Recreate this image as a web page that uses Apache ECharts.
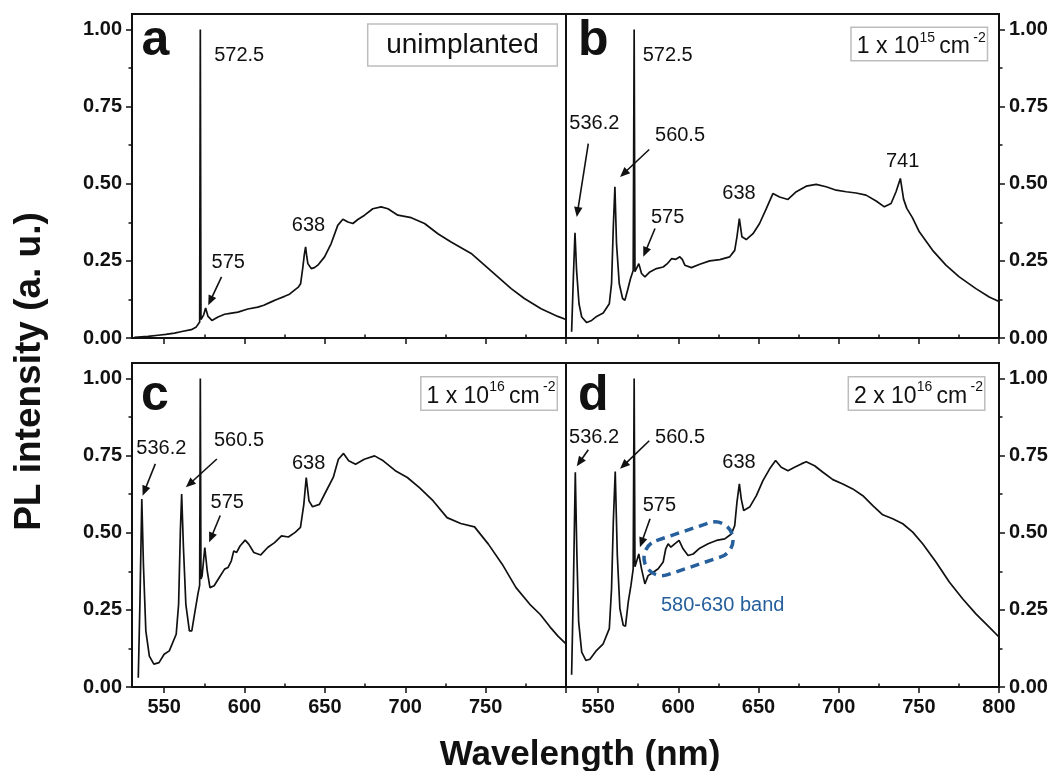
<!DOCTYPE html>
<html><head><meta charset="utf-8">
<script src="https://cdn.jsdelivr.net/npm/echarts@6/dist/echarts.min.js"></script>
<style>html,body{margin:0;padding:0;background:#fff}#c{width:1057px;height:771px}</style>
</head><body><div id="c"></div>
<script>
// ---------- data (wavelength nm, normalised PL intensity) ----------
const wlA=[531.5,533.7,540,546.2,551,556.5,561,566.9,570,572.1,572.5,572.9,573.5,574.6,575.8,577.3,579.7,583.5,587.6,591,595.9,602.1,608.3,612,616.6,620,624.9,628,631.1,633.5,634.9,636.3,637.2,638,638.7,639.4,641.5,643.5,645.6,649.8,653.9,658,661.2,664.3,667.4,670.5,674.7,679.8,685,689.2,695.4,703.7,712,720.3,728.5,741,749.3,757.6,765.9,774.1,784.5,794.9,800];
const plA=[0.002,0.003,0.005,0.009,0.012,0.016,0.021,0.027,0.036,0.052,1.0,0.06,0.057,0.075,0.097,0.07,0.057,0.068,0.077,0.08,0.084,0.094,0.1,0.106,0.117,0.125,0.135,0.142,0.155,0.165,0.176,0.23,0.27,0.295,0.265,0.241,0.225,0.228,0.236,0.263,0.306,0.365,0.385,0.376,0.371,0.384,0.398,0.419,0.425,0.419,0.398,0.39,0.371,0.338,0.311,0.274,0.236,0.198,0.16,0.128,0.095,0.07,0.06];

const wlB=[533.5,534.6,535.6,536.6,538.1,539.8,542.9,546,549.1,553.2,557,558.4,559.5,560.5,561.5,563.2,565.3,566.7,568.4,570.2,571.9,572.5,573,573.6,575.4,577.1,579.2,582.3,586.4,590.6,593,595.8,598.5,601,602.5,604.1,608.2,613.4,619.6,625.9,632.1,635.2,636.6,638.1,639.7,642.4,646.6,650.7,654.9,659,663.2,668.4,673.6,679.8,686,692.2,698.5,704.7,710.9,717.1,723.4,728.5,732.7,735.8,738.5,740.5,742.5,746,750.3,758.6,766.9,775.2,785.6,793.9,800];
const plB=[0.02,0.198,0.341,0.219,0.111,0.068,0.05,0.057,0.07,0.081,0.111,0.176,0.36,0.49,0.306,0.176,0.128,0.122,0.155,0.192,0.219,1.0,0.215,0.219,0.241,0.209,0.198,0.214,0.225,0.23,0.24,0.257,0.255,0.263,0.255,0.236,0.228,0.239,0.25,0.254,0.263,0.284,0.328,0.387,0.328,0.319,0.338,0.371,0.419,0.468,0.457,0.449,0.474,0.492,0.498,0.49,0.479,0.474,0.47,0.463,0.444,0.425,0.436,0.474,0.517,0.45,0.42,0.39,0.344,0.284,0.236,0.198,0.16,0.133,0.118];

const wlC=[533.9,535,536.1,537.1,538.6,540.8,543.6,546.8,550,553.2,557.5,559,560.1,560.9,562,563.5,565.7,567.2,568.9,571,572.1,572.5,572.9,573.6,575.3,576.8,578.5,581.1,584.3,587.6,589.7,591.8,593.3,595.1,597.2,600.4,602.6,605.8,610.1,614.4,618.7,623,627.3,631.5,634.8,636.9,638.4,640.1,642.3,646.6,650.9,655.2,658.4,661.6,664.8,669.1,674.5,680.9,686.3,693.8,701.3,708.8,717.4,726,734.5,743.1,751.7,760.3,768.9,777.5,784,790,795,800];
const plC=[0.03,0.29,0.609,0.398,0.182,0.1,0.074,0.079,0.106,0.117,0.171,0.268,0.506,0.625,0.452,0.268,0.182,0.182,0.236,0.301,0.33,1.0,0.35,0.36,0.452,0.376,0.322,0.328,0.355,0.382,0.387,0.409,0.441,0.436,0.457,0.476,0.463,0.436,0.428,0.452,0.468,0.49,0.486,0.501,0.517,0.592,0.679,0.603,0.584,0.592,0.636,0.679,0.738,0.757,0.733,0.722,0.738,0.749,0.733,0.701,0.679,0.646,0.603,0.549,0.53,0.519,0.463,0.398,0.322,0.268,0.235,0.195,0.165,0.14];

const wlD=[533.5,534.6,535.8,536.8,537.9,539.8,542.4,544.9,549.1,553.2,557,558.4,559.5,560.7,562,563.6,565.7,567.1,568.8,570.5,571.9,572.5,573,573.6,575.4,577.1,579.2,581.2,584.4,587.5,590.6,592.2,593.7,595.4,597.8,600.5,603,606.1,609.3,613.4,618.6,623.8,629,633.1,635.2,636.6,638.1,639.3,640.8,644.5,648.7,652.8,657,660.7,664.2,668.4,672.5,676.7,679.8,685,690.2,696.4,702.6,708.8,715.1,721.3,727.5,733.7,740,746.2,752.4,760.7,769,777.3,785.6,793.9,800];
const plD=[0.04,0.318,0.696,0.426,0.21,0.113,0.086,0.09,0.119,0.14,0.189,0.318,0.534,0.698,0.426,0.254,0.2,0.197,0.275,0.329,0.383,1.0,0.39,0.394,0.431,0.383,0.334,0.361,0.372,0.383,0.405,0.448,0.464,0.453,0.464,0.475,0.448,0.426,0.431,0.45,0.464,0.475,0.48,0.496,0.523,0.599,0.658,0.609,0.572,0.583,0.62,0.669,0.707,0.734,0.712,0.701,0.712,0.723,0.73,0.717,0.696,0.672,0.658,0.642,0.62,0.588,0.558,0.545,0.529,0.502,0.464,0.405,0.34,0.286,0.237,0.194,0.162];

// ---------- ticks ----------
const xMajor=[550,600,650,700,750,800];
const xMinor=[575,625,675,725,775];
const yMajor=[0,0.25,0.5,0.75,1.0];
const yMinor=[0.125,0.375,0.625,0.875];

// ---------- texts ----------
const panelLetters=['a','b','c','d'];
const peakLabels=[
 {p:0,t:'572.5',x:581.1,y:0.917},{p:0,t:'575',x:579.5,y:0.244},{p:0,t:'638',x:629.4,y:0.364},
 {p:1,t:'572.5',x:577.8,y:0.917},{p:1,t:'536.2',x:532.1,y:0.695},{p:1,t:'560.5',x:585.5,y:0.657},
 {p:1,t:'575',x:583,y:0.39},{p:1,t:'638',x:627.5,y:0.468},{p:1,t:'741',x:729.5,y:0.571},
 {p:2,t:'536.2',x:532.7,y:0.772},{p:2,t:'560.5',x:581,y:0.798},{p:2,t:'575',x:578.9,y:0.599},{p:2,t:'638',x:629.5,y:0.723},
 {p:3,t:'536.2',x:531.9,y:0.809},{p:3,t:'560.5',x:585.5,y:0.809},{p:3,t:'575',x:577.8,y:0.588},{p:3,t:'638',x:627.5,y:0.728}
];
const arrows=[
 {p:0,a:[585.7,0.198],b:[577.4,0.106]},
 {p:1,a:[543.9,0.63],b:[536.7,0.392]},{p:1,a:[581.9,0.611],b:[563.7,0.522]},{p:1,a:[585.5,0.355],b:[578.2,0.263]},
 {p:2,a:[544.5,0.723],b:[536.6,0.62]},{p:2,a:[582.8,0.739],b:[563.5,0.647]},{p:2,a:[584.9,0.556],b:[578,0.469]},
 {p:3,a:[543.9,0.769],b:[536.7,0.715]},{p:3,a:[581.9,0.798],b:[563.7,0.707]},{p:3,a:[582.4,0.545],b:[576.1,0.453]}
];
const bandLabel={p:3,t:'580-630 band',x:589.2,y:0.264};
const bandCenter={p:3,x:606.4,y:0.448};

const FONT='"Liberation Sans", Arial, sans-serif';
const INK='#111';
const BLUE='#255f9c';

const grids=[
 {left:132,top:14,width:434,height:324},
 {left:566,top:14,width:433,height:324},
 {left:132,top:363,width:434,height:324},
 {left:566,top:363,width:433,height:324}
];

const wl=[wlA,wlB,wlC,wlD], pl=[plA,plB,plC,plD];
const xAxes=[], yAxes=[], series=[];
grids.forEach((g,i)=>{
  const bottomRow=i>=2, rightCol=i%2===1;
  xAxes.push({type:'value',gridIndex:i,min:530,max:800,
    axisLine:{show:true,onZero:false,lineStyle:{color:INK,width:2}},
    axisTick:{show:true,inside:false,length:6,customValues:xMajor,lineStyle:{color:INK,width:1.5}},
    axisLabel:{show:bottomRow,customValues:rightCol?xMajor:xMajor.slice(0,5),margin:10,
      fontSize:20,fontWeight:'bold',color:INK,fontFamily:FONT},
    splitLine:{show:false}});
  xAxes.push({type:'value',gridIndex:i,min:530,max:800,
    axisLine:{show:false},axisLabel:{show:false},splitLine:{show:false},
    axisTick:{show:true,inside:false,length:3.5,customValues:xMinor,lineStyle:{color:INK,width:1.5}}});
  yAxes.push({type:'value',gridIndex:i,min:0,max:1.05,position:rightCol?'right':'left',
    axisLine:{show:true,onZero:false,lineStyle:{color:INK,width:2}},
    axisTick:{show:true,inside:false,length:6,customValues:yMajor,lineStyle:{color:INK,width:1.5}},
    axisLabel:{show:true,customValues:yMajor,margin:10,formatter:v=>Number(v).toFixed(2),
      fontSize:20,fontWeight:'bold',color:INK,fontFamily:FONT},
    splitLine:{show:false}});
  yAxes.push({type:'value',gridIndex:i,min:0,max:1.05,position:rightCol?'right':'left',
    axisLine:{show:false},axisLabel:{show:false},splitLine:{show:false},
    axisTick:{show:true,inside:false,length:3.5,customValues:yMinor,lineStyle:{color:INK,width:1.5}}});
  series.push({type:'line',xAxisIndex:2*i,yAxisIndex:2*i,showSymbol:false,symbol:'none',
    data:wl[i].map((x,k)=>[x,pl[i][k]]),lineStyle:{color:INK,width:1.7},clip:true,z:3});
});

const chart=echarts.init(document.getElementById('c'),null,{renderer:'canvas'});
chart.setOption({
  animation:false,backgroundColor:'#fff',
  grid:grids.map(g=>Object.assign({show:true,borderColor:INK,borderWidth:2,backgroundColor:'transparent',containLabel:false,outerBoundsMode:'none'},g)),
  xAxis:xAxes,yAxis:yAxes,series:series
});

function px(p,x,y){return chart.convertToPixel({xAxisIndex:2*p,yAxisIndex:2*p},[x,y]);}
const gr=[];
function txt(x,y,t,size,opts){
  gr.push(Object.assign({type:'text',x:x,y:y,z:10,silent:true,
    style:Object.assign({text:t,fill:INK,font:(opts&&opts.weight||'normal')+' '+size+'px '+FONT,
      align:'left',verticalAlign:'middle'},opts&&opts.style||{})},opts&&opts.el||{}));
}
// panel letters
const letterPos=[[141.5,41],[578,41],[141,396],[578,396]];
panelLetters.forEach((l,i)=>txt(letterPos[i][0],letterPos[i][1],l,50,{weight:'bold'}));
// peak labels
peakLabels.forEach(o=>{const q=px(o.p,o.x,o.y);txt(q[0],q[1],o.t,20);});
// arrows
arrows.forEach(o=>{
  const a=px(o.p,o.a[0],o.a[1]), b=px(o.p,o.b[0],o.b[1]);
  const dx=b[0]-a[0], dy=b[1]-a[1], L=Math.hypot(dx,dy), ux=dx/L, uy=dy/L;
  const hl=10, hw=4.2;
  const bx=b[0]-ux*hl, by=b[1]-uy*hl;
  gr.push({type:'line',z:10,silent:true,shape:{x1:a[0],y1:a[1],x2:bx+ux*1,y2:by+uy*1},style:{stroke:INK,lineWidth:1.6}});
  gr.push({type:'polygon',z:10,silent:true,shape:{points:[[b[0],b[1]],[bx-uy*hw,by+ux*hw],[bx+uy*hw,by-ux*hw]]},style:{fill:INK}});
});
// legend boxes
function box(x,y,w,h){gr.push({type:'rect',z:9,silent:true,shape:{x:x,y:y,width:w,height:h},style:{fill:'#fff',stroke:'#bdbdbd',lineWidth:1.5}});}
box(367.7,24,189.6,42); txt(462.5,45.5,'unimplanted',28,{style:{align:'center'}});
function dose(bx,by,lead,exp){
  box(bx,by,136.5,33.5);
  txt(bx+5.7,by+19.5,lead+' x 10',23);
  txt(bx+68.5,by+10.5,exp,14);
  txt(bx+88.3,by+19.5,'cm',23);
  txt(bx+122.3,by+10.8,'-2',14);
}
dose(851,27.3,'1','15');
dose(420.8,376.7,'1','16');
dose(848.3,376.7,'2','16');
// 580-630 band marker
const bc=px(bandCenter.p,bandCenter.x,bandCenter.y);
gr.push({type:'rect',z:10,silent:true,x:bc[0],y:bc[1],rotation:18.5*Math.PI/180,
  shape:{x:-46,y:-18,width:92,height:36,r:18},style:{fill:'none',stroke:BLUE,lineWidth:3.5,lineDash:[9,6]}});
{const q=px(bandLabel.p,bandLabel.x,bandLabel.y);txt(q[0],q[1],bandLabel.t,20,{style:{fill:BLUE}});}
// axis titles
txt(30,371.5,'PL intensity (a. u.)',37,{weight:'bold',style:{align:'center'},el:{rotation:Math.PI/2}});
txt(580,755,'Wavelength (nm)',35,{weight:'bold',style:{align:'center'}});
chart.setOption({graphic:gr});
</script></body></html>
